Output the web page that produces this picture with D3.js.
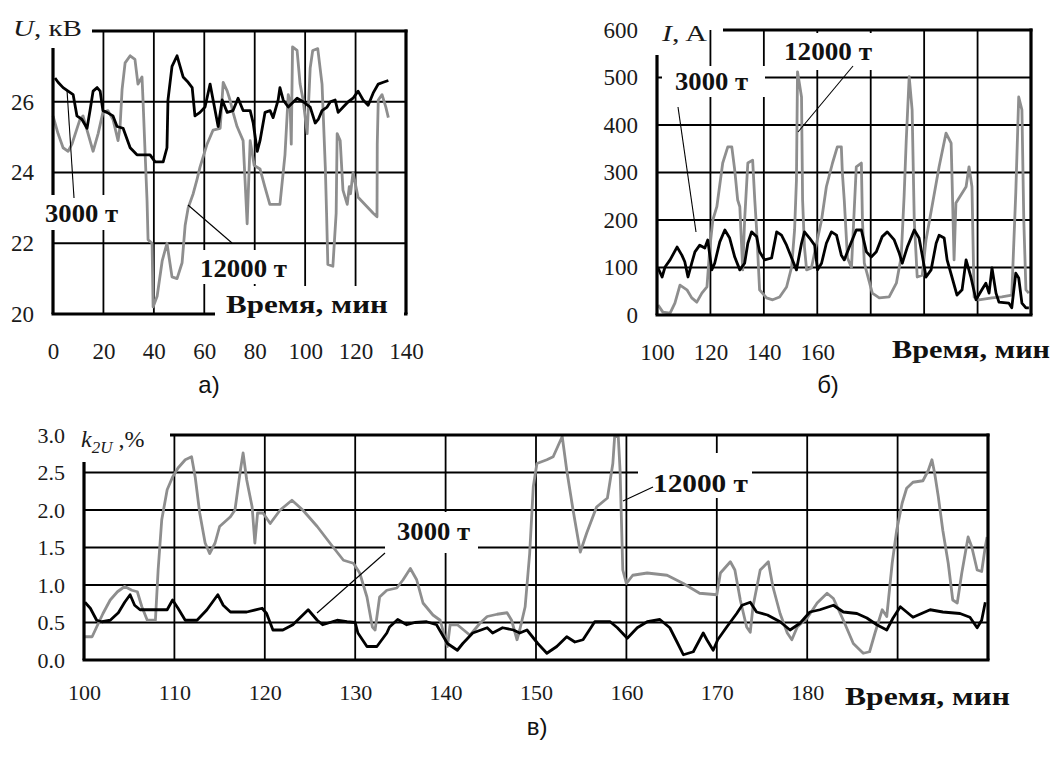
<!DOCTYPE html>
<html>
<head>
<meta charset="utf-8">
<script src="https://cdn.jsdelivr.net/npm/d3@7"></script>
<style>
body { margin: 0; background: #fff; }
svg { display: block; }
text { font-family: "Liberation Serif", "Times New Roman", serif; fill: #1a1a1a; }
.tag { font-weight: bold; font-size: 25px; fill: #111; }
.cap { font-family: "Liberation Sans", Arial, sans-serif; font-size: 24px; fill: #111; }
</style>
</head>
<body>
<svg id="chart" width="1054" height="760"></svg>
<script>
'use strict';

// а) voltage U, kV over time, min
var aTime3000 = [0.8,2,4,6,8,9.5,11.5,13.5,14.7,15.9,17.5,18.7,19.8,21.4,23.8,25.4,27.8,30.6,33.3,35.7,38.5,40.5,43.7,45.2,45.6,47.2,49.2,50.4,51.6,53.6,55.2,56.3,58.3,60.3,62.3,63.5,65.5,67.1,69.1,71.4,73.4,75.4,78.2,79.4,81,82.1,84.1,86.1,87.3,89.3,90,91.3,93.3,96.8,99.2,102,104,105.2,106.7,108.7,110,111.9,113.1,115.1,117.1,119,121,123,125,127,129,131,133];
var aU3000 = [26.67,26.55,26.4,26.3,26.2,25.6,25.5,25.25,25.76,26.3,26.4,26.3,25.75,25.7,25.6,25.3,25.25,24.7,24.5,24.5,24.5,24.3,24.3,24.7,26.05,27,27.3,27,26.7,26.55,26.4,25.6,25.7,25.85,26.5,26.05,25.3,26.05,25.7,25.75,26.1,25.75,25.75,25.4,24.6,24.9,25.7,25.75,25.55,26.05,26.4,26.05,25.85,26.1,26,25.85,25.4,25.5,25.75,25.85,26,26.05,25.7,25.85,26,26.1,26.3,26.05,25.9,26.25,26.5,26.55,26.6];
var aTime12000 = [0,2,4,6,7.5,10.7,11.9,13.9,15.9,17.9,19.8,21.8,23.8,25.8,26.6,27.4,28.6,30.6,32.5,33.7,35.3,35.7,36.5,37.3,37.7,39.3,39.7,41.3,43.3,45.2,47.2,49.2,51.2,52.4,53.6,55.6,57.1,58.3,61.1,63.5,66.3,67.5,69.1,70.2,71.4,73,75.4,77,78.2,79.8,82.1,84,86,90,92,93.3,94,94.5,95,96.8,98,99.2,100.8,102,103,105,106.7,108,108.5,109,111,112.3,112.7,113.9,115,116.7,117.5,118,119,121,127,128.5,128.6,129,130.5,132,133];
var aU12000 = [25.6,25.1,24.7,24.6,24.8,25.5,25.6,25.1,24.6,25.1,25.7,25.75,25.5,24.9,25.3,26.35,27.1,27.3,27.2,26.5,26.7,26.05,24.6,23.2,22.1,22,20.2,20.5,21.5,22,21.05,21,21.45,22.5,23,23.4,23.8,24.15,24.8,25.2,25.25,26.55,26.3,26.05,25.7,25.3,24.9,22.55,24.9,24.2,24.1,23.6,23.1,23.1,24.5,26.2,26,24.8,27.55,27.45,26.5,26.05,25.1,26.95,27.45,27.5,26.5,24.15,22.85,21.4,21.35,22.85,25.1,24.9,23.5,23.1,23.6,23.4,24,23.3,22.85,22.75,24.8,26.05,26.2,25.85,25.55];
var aXTicks = [0,20,40,60,80,100,120,140];
var aXLabels = [0,20,40,60,80,100,120,140];
var aYTicks = [20,22,24,26];

// б) current I, A over time, min
var bTime3000 = [100.4,101.9,103,104.9,107.5,109.3,110.4,111.6,113,114.2,116,117.9,119,120.5,121.6,123.5,125.4,127.2,129.1,131,132.8,134,135.4,137.3,138.4,140.3,142.9,144.8,146.6,148.5,150.4,152.2,154.1,155.2,157.1,159,160.1,161.6,163.4,165.3,167.2,169,170.1,172,174.6,176.5,178.4,180.2,182.1,184.3,186.2,188.8,190.7,191.8,193.7,196.3,198.1,199.3,200.7,202.6,204.5,205.6,207.5,208.6,210.4,212.3,214.2,215.7,217.5,219.4,221.6,223.1,224.3,225.4,226.9,228,231.7,232.8,234.3,235.4,236.6,238.1,239.2];
var bI3000 = [99,80,101,116,143,126,112,80,109,133,147,141,158,95,109,154,179,162,122,95,109,151,175,165,133,116,120,175,168,147,120,95,151,175,162,147,95,109,151,175,168,126,116,143,179,179,133,122,133,165,175,158,130,109,143,179,162,126,80,95,151,168,162,116,80,42,53,116,80,32,53,67,46,99,46,27,25,15,88,78,25,15,15];
var bTime12000 = [100.4,102.2,104.9,106.7,108.6,111.2,113,114.9,116.8,118.7,119.8,120.9,122.4,124.6,126.5,128,129.1,130.2,131,132.1,132.8,134,135.8,136.6,137.3,138.4,141,143.3,145.9,148.5,150.4,151.5,152.2,152.6,154.1,154.5,155.2,156,157.8,159.7,161.6,163.4,165.7,167.5,169,169.4,170.1,171.3,172.8,174.6,176.5,176.9,177.6,180.6,183.2,186.9,189.6,191.4,192.5,193.3,194.4,195.5,196.3,197.4,199.3,200.7,205.6,208.2,210.1,210.4,211.2,211.9,215.7,216.8,217.9,218.7,220.5,225.4,229.1,232.8,234.3,235.4,236.6,237.3,238.1,239.2];
var bI12000 = [21,6,4,25,63,53,36,27,46,59,143,200,228,320,354,354,305,242,228,95,200,320,326,242,179,53,36,32,38,59,101,179,284,512,459,242,143,95,99,150,200,270,320,354,354,298,242,120,100,312,320,200,109,46,36,38,67,122,250,368,502,432,200,80,84,158,312,383,362,298,116,236,270,312,270,38,32,36,38,42,257,459,432,200,53,46];
var bXTicks = [100,120,140,160,180,200,220,240];
var bXLabels = [100,120,140,160];
var bYTicks = [0,100,200,300,400,500,600];

// в) voltage unbalance k2U, % over time, min
var cTime3000 = [100.1,100.7,101.4,102,102.9,103.8,104.5,105.1,105.6,106.2,108.1,109.2,109.8,110.4,111.2,112.5,113.6,114.8,115.4,116.2,118,119.7,120.2,120.9,122,123.1,124.8,125.8,126.4,128,129.1,130,130.3,131.3,132.4,133.5,133.8,134.7,135.7,136.6,137.9,139,140.2,141.3,141.9,143,144.6,145.2,146.3,147.5,148.2,149,150.2,151.2,152.3,153.4,154.3,155.2,156.5,158.2,159,160.1,161.2,162.3,163.7,164.8,165.6,166.3,167.4,168.5,168.9,169.6,170.1,171.1,172.2,172.8,173.7,174.4,175.6,177,178.1,179.2,180.3,181.4,182.9,184,185.5,186.6,187.7,188.8,189.5,190.3,191.7,193.6,195,196.9,198,198.8,199.3,199.7];
var cK3000 = [0.77,0.69,0.53,0.51,0.53,0.63,0.77,0.87,0.73,0.67,0.67,0.67,0.8,0.69,0.53,0.53,0.67,0.87,0.73,0.64,0.64,0.69,0.62,0.4,0.4,0.47,0.67,0.53,0.47,0.53,0.51,0.5,0.36,0.18,0.18,0.36,0.44,0.54,0.47,0.5,0.51,0.47,0.22,0.13,0.22,0.36,0.43,0.36,0.43,0.4,0.36,0.4,0.22,0.09,0.18,0.31,0.24,0.27,0.51,0.51,0.43,0.29,0.43,0.51,0.54,0.43,0.24,0.07,0.11,0.36,0.27,0.13,0.27,0.44,0.62,0.73,0.77,0.64,0.6,0.51,0.4,0.49,0.64,0.67,0.73,0.64,0.62,0.56,0.47,0.4,0.56,0.71,0.57,0.67,0.64,0.62,0.57,0.43,0.53,0.77];
var cTime12000 = [100.1,100.9,101.4,102.1,102.9,103.7,104.5,105.3,105.9,106.4,107,107.9,108.2,108.6,109.2,109.8,110.4,111.2,111.9,112.3,112.8,113.4,113.9,114.5,115,116.2,116.7,117.3,117.6,118,118.6,118.9,119.2,119.8,120.6,121.7,123,124.2,125.8,127.2,128.7,129.8,130.5,131.3,131.9,132.2,132.7,133.5,134.6,135.3,136.1,136.8,137.5,138.6,139.4,140.2,140.5,141.3,142.7,143.8,144.6,145.7,146.8,147.3,147.9,148.2,148.8,149.3,149.7,150.1,151.2,151.9,152.9,153.4,154.1,154.9,155.6,156.7,157.9,158.5,158.7,159.1,159.3,159.6,160,160.7,162.3,164.5,166.3,168.1,170,170.4,171.5,172,172.6,173.3,173.7,174,174.8,175.7,176.2,177,177.8,178.3,178.9,180,181.1,182.2,182.9,184,185.1,186.2,186.9,187.5,188.3,188.8,189.4,189.9,190.5,191,191.7,192.8,193.4,193.8,194.1,194.5,195,195.6,196.1,196.6,197.1,197.8,198.2,198.8,199.3,199.7,199.9];
var cK12000 = [0.31,0.31,0.44,0.62,0.8,0.91,0.98,0.93,0.91,0.71,0.53,0.53,1.2,1.87,2.27,2.44,2.56,2.67,2.71,2.44,1.96,1.56,1.42,1.56,1.78,1.91,2,2.53,2.76,2.4,2.04,1.56,1.96,1.96,1.82,2,2.13,2,1.78,1.56,1.33,1.29,1.16,0.84,0.44,0.4,0.84,0.93,0.96,1.07,1.22,1.07,0.76,0.6,0.53,0.18,0.47,0.47,0.33,0.49,0.58,0.61,0.63,0.53,0.27,0.4,0.71,1.42,2.31,2.62,2.67,2.71,2.98,2.53,2,1.44,1.69,2.04,2.16,2.62,2.98,2.98,2.53,1.2,1.02,1.13,1.16,1.13,1.02,0.89,0.87,1.16,1.31,1.2,0.8,0.44,0.37,0.71,1.2,1.31,0.98,0.62,0.36,0.27,0.44,0.56,0.76,0.89,0.82,0.53,0.22,0.09,0.11,0.36,0.67,0.58,1.29,1.73,2.09,2.29,2.37,2.39,2.53,2.67,2.49,2.18,1.73,1.29,0.8,0.76,1.16,1.64,1.51,1.2,1.18,1.51,1.64];
var cXTicks = [100,110,120,130,140,150,160,170,180,190,200];
var cXLabels = [100,110,120,130,140,150,160,170,180];
var cYTicks = [0,0.5,1,1.5,2,2.5,3];

var svg = d3.select('#chart');
var grayColor = '#8e8e8e';
var serif = '"Liberation Serif", "Times New Roman", serif';

function pairs(ts, vs) {
	return ts.map(function(t, i) { return [t, vs[i]]; });
}

// one chart panel: grid, two series, frame, tick labels
function drawPanel(p) {
	var g = svg.append('g');
	var x = p.x, y = p.y;
	var left = x.range()[0], right = x.range()[1];
	var bottom = y.range()[0], top = y.range()[1];

	g.selectAll('.gh').data(p.yTicks.slice(1, -1)).enter().append('line')
		.attr('x1', left).attr('x2', right)
		.attr('y1', function(d) { return y(d); }).attr('y2', function(d) { return y(d); })
		.attr('stroke', '#000').attr('stroke-width', 1.8);
	g.selectAll('.gv').data(p.xTicks.slice(1, -1)).enter().append('line')
		.attr('x1', function(d) { return x(d); }).attr('x2', function(d) { return x(d); })
		.attr('y1', bottom).attr('y2', top)
		.attr('stroke', '#000').attr('stroke-width', 1.8);

	var line = d3.line()
		.x(function(d) { return x(d[0]); })
		.y(function(d) { return y(d[1]); });
	g.append('path').datum(pairs(p.t12000, p.v12000))
		.attr('d', line).attr('fill', 'none')
		.attr('stroke', grayColor).attr('stroke-width', 2.8).attr('stroke-linejoin', 'round');
	g.append('path').datum(pairs(p.t3000, p.v3000))
		.attr('d', line).attr('fill', 'none')
		.attr('stroke', '#000').attr('stroke-width', 2.8).attr('stroke-linejoin', 'round');

	// frame: top edge starts after the axis title, left edge below it
	var frame = [
		[left, p.leftFrom, left, bottom],
		[left - 1.5, bottom, right + 1.5, bottom],
		[right, top - 1.5, right, bottom],
		[p.topFrom, top, right + 1.5, top]
	];
	g.selectAll('.fr').data(frame).enter().append('line')
		.attr('x1', function(d) { return d[0]; }).attr('y1', function(d) { return d[1]; })
		.attr('x2', function(d) { return d[2]; }).attr('y2', function(d) { return d[3]; })
		.attr('stroke', '#000').attr('stroke-width', 3.2);

	var ya = g.append('g').attr('transform', 'translate(' + left + ',0)')
		.call(d3.axisLeft(y).tickValues(p.yLabels).tickSize(0).tickPadding(19).tickFormat(p.yFormat));
	var xa = g.append('g').attr('transform', 'translate(0,' + bottom + ')')
		.call(d3.axisBottom(x).tickValues(p.xLabels).tickSize(0).tickPadding(p.xPad).tickFormat(d3.format('d')));
	[ya, xa].forEach(function(a) {
		a.select('.domain').remove();
		a.selectAll('text').style('font-family', serif).style('font-size', p.fontSize + 'px').style('fill', '#1a1a1a');
	});
	return g;
}

function tag(label, box, tx, ty, width) {
	svg.append('rect').attr('x', box[0]).attr('y', box[1])
		.attr('width', box[2] - box[0]).attr('height', box[3] - box[1]).attr('fill', '#fff');
	var t = svg.append('text').attr('class', 'tag').attr('x', tx).attr('y', ty).text(label);
	if (width) t.attr('textLength', width).attr('lengthAdjust', 'spacingAndGlyphs');
}

function leader(x1, y1, x2, y2) {
	svg.append('line').attr('x1', x1).attr('y1', y1).attr('x2', x2).attr('y2', y2)
		.attr('stroke', '#000').attr('stroke-width', 1.1);
}

// а)
drawPanel({
	x: d3.scaleLinear().domain([0, 140]).range([53, 406]),
	y: d3.scaleLinear().domain([20, 28]).range([314, 31]),
	xTicks: aXTicks, xLabels: aXLabels, yTicks: aYTicks.concat([28]), yLabels: aYTicks,
	yFormat: d3.format('d'), xPad: 29, fontSize: 23,
	t3000: aTime3000, v3000: aU3000, t12000: aTime12000, v12000: aU12000,
	leftFrom: 48, topFrom: 92
});
// б)
drawPanel({
	x: d3.scaleLinear().domain([100, 240]).range([657, 1031]),
	y: d3.scaleLinear().domain([0, 600]).range([315, 30]),
	xTicks: bXTicks, xLabels: bXLabels, yTicks: bYTicks, yLabels: bYTicks,
	yFormat: d3.format('d'), xPad: 29, fontSize: 23,
	t3000: bTime3000, v3000: bI3000, t12000: bTime12000, v12000: bI12000,
	leftFrom: 55, topFrom: 723
});
// в)
drawPanel({
	x: d3.scaleLinear().domain([100, 200]).range([84, 988]),
	y: d3.scaleLinear().domain([0, 3]).range([660, 435]),
	xTicks: cXTicks, xLabels: cXLabels, yTicks: cYTicks, yLabels: cYTicks,
	yFormat: d3.format('.1f'), xPad: 24, fontSize: 22,
	t3000: cTime3000, v3000: cK3000, t12000: cTime12000, v12000: cK12000,
	leftFrom: 462, topFrom: 170
});

// series labels with white backing
tag('3000 т', [40, 195, 122, 230], 45, 222, 73);
tag('12000 т', [196, 250, 292, 284], 200, 277, 87);
tag('Время, мин', [215, 286, 404, 322], 226, 313, 162);
leader(67, 90, 74, 198);
leader(188, 205, 232, 243);

tag('3000 т', [662, 66, 765, 97], 675, 90, 73);
tag('12000 т', [779, 33, 876, 70], 784, 60, 88);
tag('Время, мин', [880, 330, 1054, 372], 892, 358, 158);
leader(678, 107, 696, 232);
leader(798, 132, 853, 66);

tag('3000 т', [385, 512, 478, 553], 397, 540, 73);
tag('12000 т', [638, 453, 752, 498], 653, 492, 95);
tag('Время, мин', [838, 672, 1054, 714], 845, 705, 165);
leader(317, 613, 385, 553);
leader(623, 501, 653, 487);

// axis titles
var ua = svg.append('text').attr('x', 13).attr('y', 36).style('font-size', '23px')
	.attr('textLength', 69).attr('lengthAdjust', 'spacingAndGlyphs');
ua.append('tspan').style('font-style', 'italic').text('U');
ua.append('tspan').text(', кВ');

var ib = svg.append('text').attr('x', 662).attr('y', 41).style('font-size', '23px')
	.attr('textLength', 45).attr('lengthAdjust', 'spacingAndGlyphs');
ib.append('tspan').style('font-style', 'italic').text('I');
ib.append('tspan').text(', A');

var kc = svg.append('text').attr('x', 81).attr('y', 447).style('font-size', '24px');
kc.append('tspan').style('font-style', 'italic').text('k');
kc.append('tspan').attr('dy', 6).style('font-style', 'italic').style('font-size', '17px').text('2U');
kc.append('tspan').attr('dy', -6).text(' ,%');

// panel captions
svg.append('text').attr('class', 'cap').attr('x', 209).attr('y', 393).attr('text-anchor', 'middle').text('а)');
svg.append('text').attr('class', 'cap').attr('x', 828).attr('y', 393).attr('text-anchor', 'middle').text('б)');
svg.append('text').attr('class', 'cap').attr('x', 537).attr('y', 735).attr('text-anchor', 'middle').text('в)');
</script>
</body>
</html>
